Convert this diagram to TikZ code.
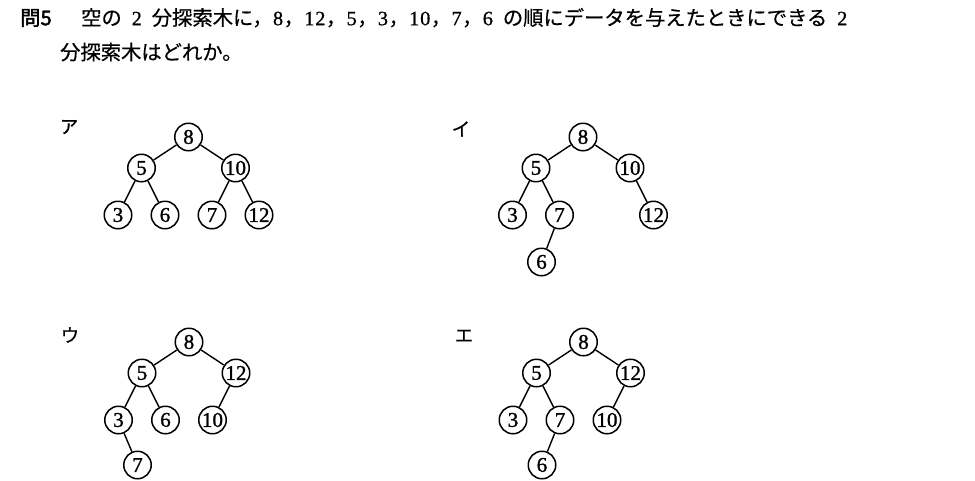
\documentclass[tikz,border=0pt]{standalone}
\usepackage{fontspec}
\newfontfamily\jp{Noto Sans CJK JP}[FakeBold=0.5]
\newfontfamily\jpb{Noto Sans CJK JP}[FakeBold=2]
\newfontfamily\nf{Liberation Serif}[FakeBold=1.2]
\newfontfamily\tf{Liberation Serif}[FakeBold=0.8]
\newcommand\D[1]{\makebox[11pt][c]{\tf #1}}
\newcommand\SP{\hspace{9.5pt}}
\begin{document}
\begin{tikzpicture}[x=1pt,y=-1pt,
  bn/.style={circle, draw, line width=1.5pt, minimum size=27.5pt, inner sep=0pt,
    font=\nf\fontsize{21}{21}\selectfont},
  ed/.style={line width=1.4pt},
  lab/.style={font=\jp\fontsize{18.5}{18.5}\selectfont, inner sep=0pt},
  ttl/.style={anchor=base west, inner sep=0pt, font=\jp\fontsize{20.3}{24}\selectfont}]
\useasboundingbox[fill=white] (0,0) rectangle (975,480);
% title
\node[ttl, font=\jpb\fontsize{20.3}{24}\selectfont] (q) at (20,25.2) {問5};
\node[ttl] (l1) at (81,25.2) {空の\SP\D2\SP 分探索木に，\D8，\D1\D2，\D5，\D3，\D1\D0，\D7，\D6\SP の順にデータを与えたときにできる\SP\D2};
\node[ttl] (l2) at (60,59.7) {分探索木はどれか。};
% labels
\node[lab] (la) at (69,127) {ア};
\node[lab] (li) at (461,129) {イ};
\node[lab] (lu) at (70,335) {ウ};
\node[lab] (le) at (464,336) {エ};
% tree a
\node[bn] (a8) at (188.5,137) {8};
\node[bn] (a5) at (141.5,168) {5};
\node[bn] (a10) at (235.5,168) {10};
\node[bn] (a3) at (118,215) {3};
\node[bn] (a6) at (165,215) {6};
\node[bn] (a7) at (212,215) {7};
\node[bn] (a12) at (259,215) {12};
\draw[ed] (a8) -- (a5); \draw[ed] (a8) -- (a10);
\draw[ed] (a5) -- (a3); \draw[ed] (a5) -- (a6);
\draw[ed] (a10) -- (a7); \draw[ed] (a10) -- (a12);
% tree i
\node[bn] (i8) at (583,137) {8};
\node[bn] (i5) at (536,168) {5};
\node[bn] (i10) at (630,168) {10};
\node[bn] (i3) at (512.5,215) {3};
\node[bn] (i7) at (559.5,215) {7};
\node[bn] (i12) at (653.5,215) {12};
\node[bn] (i6) at (541.5,262) {6};
\draw[ed] (i8) -- (i5); \draw[ed] (i8) -- (i10);
\draw[ed] (i5) -- (i3); \draw[ed] (i5) -- (i7);
\draw[ed] (i10) -- (i12); \draw[ed] (i7) -- (i6);
% tree u
\node[bn] (u8) at (189,342) {8};
\node[bn] (u5) at (142,373) {5};
\node[bn] (u12) at (236,373) {12};
\node[bn] (u3) at (118.5,420) {3};
\node[bn] (u6) at (165.5,420) {6};
\node[bn] (u10) at (212.5,420) {10};
\node[bn] (u7) at (137.5,465) {7};
\draw[ed] (u8) -- (u5); \draw[ed] (u8) -- (u12);
\draw[ed] (u5) -- (u3); \draw[ed] (u5) -- (u6);
\draw[ed] (u12) -- (u10); \draw[ed] (u3) -- (u7);
% tree e
\node[bn] (e8) at (583.5,342) {8};
\node[bn] (e5) at (536.5,373) {5};
\node[bn] (e12) at (630.5,373) {12};
\node[bn] (e3) at (513,420) {3};
\node[bn] (e7) at (560,420) {7};
\node[bn] (e10) at (607,420) {10};
\node[bn] (e6) at (542,465) {6};
\draw[ed] (e8) -- (e5); \draw[ed] (e8) -- (e12);
\draw[ed] (e5) -- (e3); \draw[ed] (e5) -- (e7);
\draw[ed] (e12) -- (e10); \draw[ed] (e7) -- (e6);
\end{tikzpicture}
\end{document}
